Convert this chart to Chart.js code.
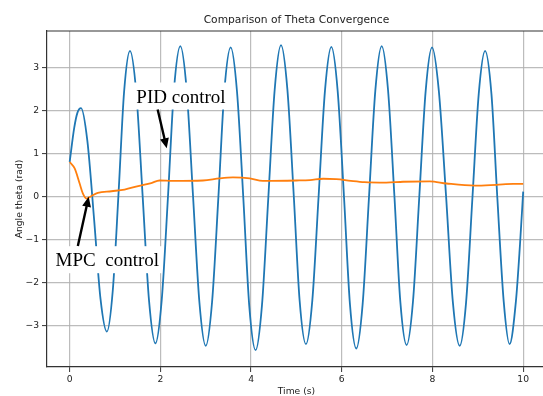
<!DOCTYPE html>
<html>
<head>
<meta charset="utf-8">
<title>Comparison of Theta Convergence</title>
<script src="https://cdn.jsdelivr.net/npm/chart.js@4.4.1/dist/chart.umd.min.js"></script>
<style>
    html, body { margin: 0; padding: 0; background: #fff; }
    #wrap { width: 543px; height: 396px; }
</style>
</head>
<body>
<div id="wrap"><canvas id="thetaChart" width="543" height="396"></canvas></div>
<script>
// pendulum angle under PID control (s, rad)
const pidTime = [
    0.00, 0.10, 0.17, 0.25, 0.39, 0.54, 0.68, 0.82, 0.95, 1.08, 1.20, 1.33,
    1.47, 1.61, 1.75, 1.89, 2.03, 2.17, 2.30, 2.44, 2.58, 2.72, 2.86, 3.00,
    3.14, 3.28, 3.41, 3.55, 3.69, 3.83, 3.96, 4.10, 4.24, 4.38, 4.52, 4.66,
    4.80, 4.94, 5.07, 5.21, 5.35, 5.49, 5.63, 5.77, 5.91, 6.05, 6.18, 6.32,
    6.46, 6.60, 6.74, 6.88, 7.02, 7.16, 7.29, 7.43, 7.57, 7.71, 7.85, 7.99,
    8.14, 8.30, 8.45, 8.60, 8.74, 8.88, 9.02, 9.16, 9.30, 9.43, 9.57, 9.70,
    9.84, 9.93, 10.00
];
const pidTheta = [
    0.81, 1.60, 1.95, 2.06, 1.30, -0.54, -2.37, -3.13, -2.18, 0.13, 2.44, 3.39,
    2.40, 0.00, -2.41, -3.40, -2.39, 0.05, 2.49, 3.50, 2.48, 0.02, -2.44, -3.46,
    -2.44, 0.01, 2.45, 3.47, 2.44, -0.05, -2.53, -3.56, -2.52, -0.02, 2.48, 3.52,
    2.50, 0.05, -2.40, -3.42, -2.41, 0.03, 2.47, 3.48, 2.45, -0.02, -2.49, -3.52,
    -2.49, -0.01, 2.47, 3.50, 2.48, 0.03, -2.42, -3.44, -2.43, 0.02, 2.46, 3.47,
    2.46, 0.01, -2.45, -3.46, -2.46, -0.04, 2.39, 3.39, 2.39, -0.02, -2.42, -3.42,
    -2.42, -1.10, 0.12
];

// pendulum angle under MPC control
const mpcTime = [
    0.00, 0.11, 0.22, 0.29, 0.37, 0.48, 0.62, 0.92, 1.21, 1.51, 1.80, 1.98,
    2.28, 2.94, 3.31, 3.60, 3.97, 4.26, 5.00, 5.30, 5.59, 5.88, 6.20, 6.50,
    6.98, 7.35, 7.94, 8.31, 8.93, 9.41, 9.78, 10.00
];
const mpcTheta = [
    0.81, 0.66, 0.31, 0.08, -0.04, 0.02, 0.09, 0.13, 0.17, 0.25, 0.32, 0.38,
    0.37, 0.38, 0.43, 0.45, 0.43, 0.37, 0.38, 0.39, 0.42, 0.41, 0.37, 0.34,
    0.33, 0.35, 0.36, 0.31, 0.26, 0.28, 0.30, 0.30
];

const xTicks = [0, 2, 4, 6, 8, 10];
const yTicks = [-3, -2, -1, 0, 1, 2, 3];

const chartTitle = 'Comparison of Theta Convergence';
const xTitle = 'Time (s)';
const yTitle = 'Angle theta (rad)';

// callouts: text anchor (left, baseline), arrow tail and tip, all in data units
const notes = [
    { text: 'PID control', at: [1.47, 2.19], from: [1.94, 2.03], to: [2.14, 1.13] },
    { text: 'MPC  control', at: [-0.31, -1.61], from: [0.18, -1.14], to: [0.42, 0.0] }
];

const AXIS_MIN_X = -0.5, AXIS_FULL_X = 10.5;

function toPoints(xs, ys) {
    return xs.map((x, i) => ({ x: x, y: ys[i] }));
}

function fmtTick(v) {
    return v < 0 ? '\u2212' + Math.abs(v) : String(v);
}

function drawArrow(ctx, x0, y0, x1, y1) {
    const ang = Math.atan2(y1 - y0, x1 - x0);
    const len = Math.hypot(x1 - x0, y1 - y0);
    const headLen = 10, headHalf = 4.5, shaftHalf = 1.2;
    ctx.save();
    ctx.translate(x0, y0);
    ctx.rotate(ang);
    ctx.beginPath();
    ctx.moveTo(0, -shaftHalf);
    ctx.lineTo(len - headLen, -shaftHalf);
    ctx.lineTo(len - headLen, -headHalf);
    ctx.lineTo(len, 0);
    ctx.lineTo(len - headLen, headHalf);
    ctx.lineTo(len - headLen, shaftHalf);
    ctx.lineTo(0, shaftHalf);
    ctx.closePath();
    ctx.fillStyle = '#000';
    ctx.fill();
    ctx.restore();
}

const overlay = {
    id: 'overlay',
    afterDatasetsDraw(chart) {
        const { ctx, scales } = chart;
        const sx = scales.x, sy = scales.y;
        ctx.save();
        ctx.font = '19px "Liberation Serif"';
        ctx.textBaseline = 'alphabetic';
        notes.forEach(n => {
            const left = sx.getPixelForValue(n.at[0]);
            const base = sy.getPixelForValue(n.at[1]);
            const w = ctx.measureText(n.text).width;
            ctx.fillStyle = '#fff';
            ctx.fillRect(left - 3, base - 20, w + 6, 27);
            ctx.fillStyle = '#000';
            ctx.fillText(n.text, left, base);
            drawArrow(ctx,
                sx.getPixelForValue(n.from[0]), sy.getPixelForValue(n.from[1]),
                sx.getPixelForValue(n.to[0]), sy.getPixelForValue(n.to[1]));
        });
        ctx.restore();
    },
    afterDraw(chart) {
        const { ctx, chartArea, scales } = chart;
        const sx = scales.x;
        const midX = (sx.getPixelForValue(AXIS_MIN_X) + sx.getPixelForValue(AXIS_FULL_X)) / 2;
        const midY = (chartArea.top + chartArea.bottom) / 2;
        ctx.save();
        // top spine
        ctx.strokeStyle = '#333';
        ctx.lineWidth = 1.2;
        ctx.beginPath();
        ctx.moveTo(chartArea.left, chartArea.top);
        ctx.lineTo(chartArea.right, chartArea.top);
        ctx.stroke();

        ctx.fillStyle = '#222';
        ctx.textAlign = 'center';
        ctx.textBaseline = 'alphabetic';
        ctx.font = '10.7px "DejaVu Sans"';
        ctx.fillText(chartTitle, midX, 23);

        ctx.font = '9.2px "DejaVu Sans"';
        ctx.fillText(xTitle, midX, 394);

        ctx.translate(22, midY);
        ctx.rotate(-Math.PI / 2);
        ctx.fillText(yTitle, 0, 0);
        ctx.restore();
    }
};

class ThetaChart {
    constructor(canvasId) {
        this.createChart(canvasId);
    }

    createChart(canvasId) {
        Chart.defaults.font.family = '"DejaVu Sans"';
        const ctx = document.getElementById(canvasId).getContext('2d');
        new Chart(ctx, {
            type: 'line',
            data: {
                datasets: [{
                    label: 'PID control',
                    data: toPoints(pidTime, pidTheta),
                    borderColor: '#1f77b4',
                    borderWidth: 1.8,
                    pointRadius: 0,
                    cubicInterpolationMode: 'monotone',
                    fill: false,
                    order: 2
                }, {
                    label: 'MPC control',
                    data: toPoints(mpcTime, mpcTheta),
                    borderColor: '#ff7f0e',
                    borderWidth: 1.8,
                    pointRadius: 0,
                    cubicInterpolationMode: 'monotone',
                    fill: false,
                    order: 1
                }]
            },
            options: {
                responsive: false,
                animation: false,
                devicePixelRatio: 1,
                layout: { padding: { top: 31, right: 0, bottom: 0, left: 0 } },
                plugins: {
                    legend: { display: false },
                    title: { display: false },
                    tooltip: { enabled: false }
                },
                scales: {
                    x: {
                        type: 'linear',
                        min: AXIS_MIN_X,
                        max: 10.437,
                        afterFit: s => { s.height = 29; },
                        afterBuildTicks: s => { s.ticks = xTicks.map(v => ({ value: v })); },
                        ticks: {
                            callback: fmtTick,
                            color: '#222',
                            font: { size: 9.2 },
                            padding: 2,
                            maxRotation: 0
                        },
                        grid: {
                            color: 'rgba(176,176,176,0.85)',
                            lineWidth: 1.2,
                            tickLength: 5,
                            tickColor: '#333',
                            tickWidth: 1
                        },
                        border: { display: true, color: '#333', width: 1.2 }
                    },
                    y: {
                        type: 'linear',
                        min: -3.95,
                        max: 3.85,
                        afterFit: s => { s.width = 47; },
                        afterBuildTicks: s => { s.ticks = yTicks.map(v => ({ value: v })); },
                        ticks: {
                            callback: fmtTick,
                            color: '#222',
                            font: { size: 9.2 },
                            padding: 3
                        },
                        grid: {
                            color: 'rgba(176,176,176,0.85)',
                            lineWidth: 1.2,
                            tickLength: 5,
                            tickColor: '#333',
                            tickWidth: 1
                        },
                        border: { display: true, color: '#333', width: 1.2 }
                    }
                }
            },
            plugins: [overlay]
        });
    }
}

document.addEventListener('DOMContentLoaded', () => {
    new ThetaChart('thetaChart');
});
</script>
</body>
</html>
